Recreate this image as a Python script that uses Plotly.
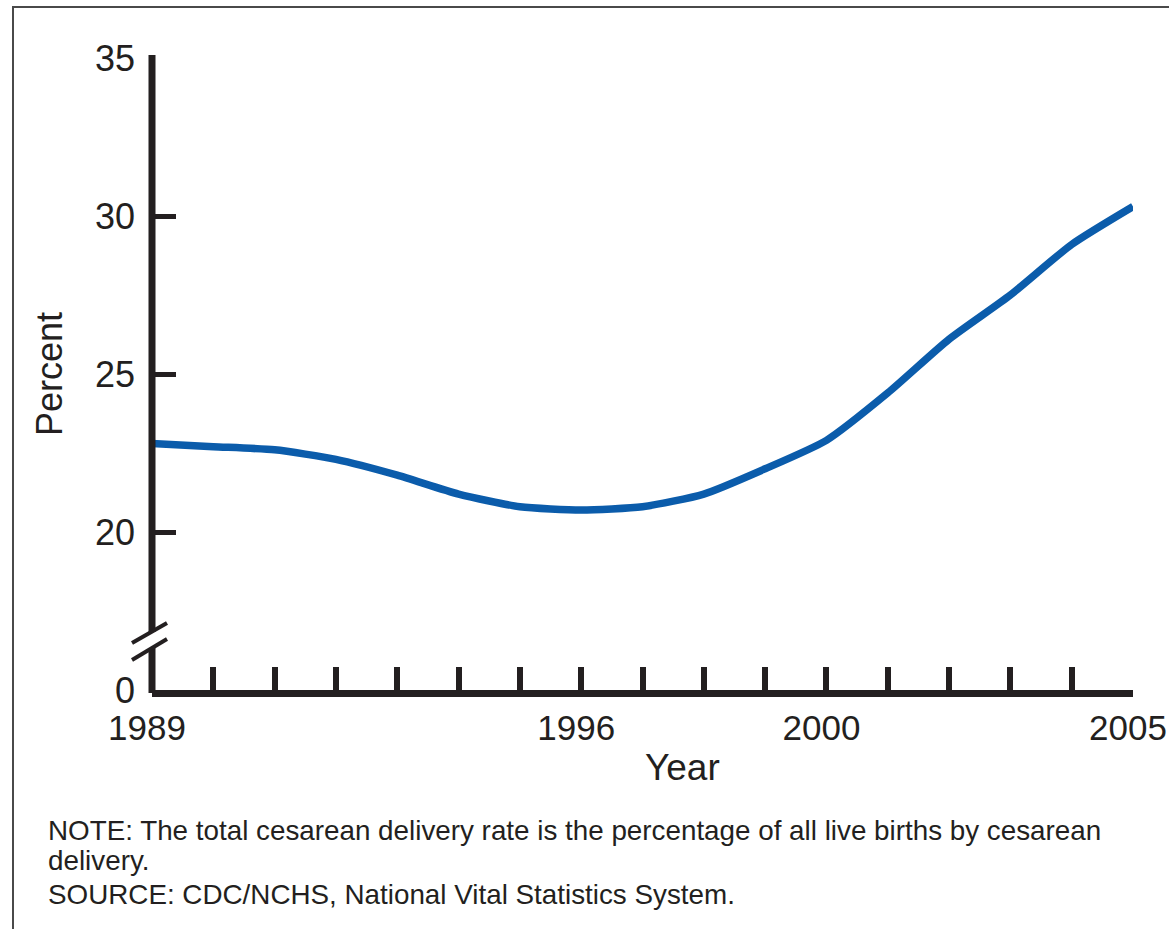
import plotly.graph_objects as go

years = list(range(1989, 2006))
rates = [22.8, 22.7, 22.6, 22.3, 21.8, 21.2, 20.8, 20.7, 20.8, 21.2, 22.0, 22.9, 24.4, 26.1, 27.5, 29.1, 30.3]

x_label_years = [1989, 1996, 2000, 2005]
y_tick_vals = [15, 20, 25, 30, 35]
y_tick_text = ["0", "20", "25", "30", "35"]

note_lines = [
    "NOTE: The total cesarean delivery rate is the percentage of all live births by cesarean",
    "delivery.",
    "SOURCE: CDC/NCHS, National Vital Statistics System.",
]

W, H = 1169, 929
L, R, T, B = 152, 36, 58, 239
PW, PH = W - L - R, H - T - B

def px(xp):
    return (xp - L) / PW

def py(yp):
    return (H - B - yp) / PH

FONT = "Liberation Sans, Arial, sans-serif"
INK = "#231f20"

fig = go.Figure()
fig.add_trace(go.Scatter(
    x=years, y=rates, mode="lines",
    line=dict(color="#0b5cab", width=7.5, shape="spline", smoothing=0.6),
    showlegend=False, hoverinfo="x+y",
))

shapes = [
    # outer frame
    dict(type="rect", xref="paper", yref="paper", x0=px(13), x1=px(1185), y0=py(945), y1=py(7),
         line=dict(color="#4a4a4a", width=2), fillcolor="rgba(0,0,0,0)", layer="below"),
    # y axis with break
    dict(type="line", xref="paper", yref="paper", x0=px(152), x1=px(152), y0=py(55), y1=py(632),
         line=dict(color=INK, width=7)),
    dict(type="line", xref="paper", yref="paper", x0=px(152), x1=px(152), y0=py(648), y1=py(693),
         line=dict(color=INK, width=7)),
    dict(type="line", xref="paper", yref="paper", x0=px(132), x1=px(167), y0=py(643), y1=py(623),
         line=dict(color=INK, width=4)),
    dict(type="line", xref="paper", yref="paper", x0=px(132), x1=px(167), y0=py(660), y1=py(639),
         line=dict(color=INK, width=4)),
]

annotations = [
    dict(xref="paper", yref="paper", x=px(46), y=py(yc), xanchor="left", yanchor="middle",
         align="left", showarrow=False, text=t,
         font=dict(family=FONT, size=27.8, color=INK))
    for t, yc in zip(note_lines, [830, 861, 894])
]
annotations.append(dict(
    xref="paper", yref="paper", x=px(682), y=py(767), xanchor="center", yanchor="middle",
    showarrow=False, text="Year", font=dict(family=FONT, size=37, color=INK)))

fig.update_layout(
    width=W, height=H,
    margin=dict(l=L, r=R, t=T, b=B, autoexpand=False),
    paper_bgcolor="white", plot_bgcolor="white",
    shapes=shapes, annotations=annotations,
    font=dict(family=FONT, color=INK),
)

fig.update_xaxes(
    range=[1989, 2005], showgrid=False, zeroline=False,
    showline=True, linecolor=INK, linewidth=7,
    ticks="inside", ticklen=23, tickwidth=6, tickcolor=INK,
    tickvals=years,
    ticktext=[str(y) if y in x_label_years else "" for y in years],
    tickfont=dict(family=FONT, size=35, color=INK),
    ticklabelstandoff=1, ticklabeloverflow="allow", ticklabelshift=-5,
    fixedrange=True,
)
fig.update_yaxes(
    range=[15, 35], showgrid=False, zeroline=False, showline=False,
    ticks="inside", ticklen=24, tickwidth=5, tickcolor=INK,
    tickvals=y_tick_vals, ticktext=y_tick_text,
    tickfont=dict(family=FONT, size=36, color=INK),
    ticklabelstandoff=16,
    title=dict(text="Percent", font=dict(family=FONT, size=36, color=INK), standoff=21),
    fixedrange=True,
)

fig.write_html("out.html", config={"displayModeBar": False},
               post_script="document.body.style.margin='0px';")
